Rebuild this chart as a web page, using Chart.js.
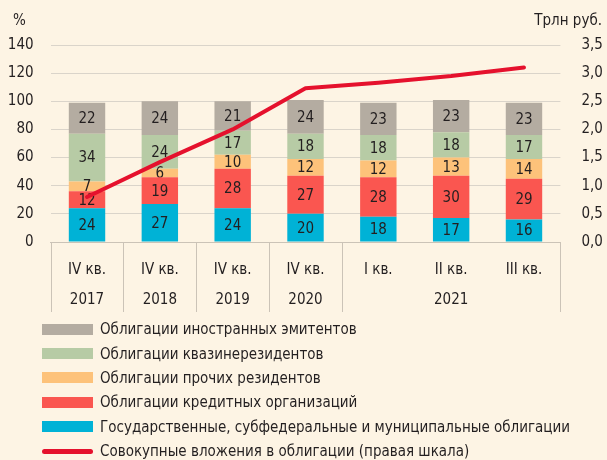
<!DOCTYPE html>
<html>
<head>
<meta charset="utf-8">
<script src="https://cdn.jsdelivr.net/npm/chart.js@4"></script>
<style>
html, body { margin: 0; padding: 0; background: #fdf4e4; }
#wrap { position: relative; width: 607px; height: 460px; }
.unit { position: absolute; top: 11px; font: 15px 'DejaVu Sans Condensed', sans-serif; color: #231f20; }
#legend { position: absolute; left: 42px; top: 317px; font: 15px 'DejaVu Sans Condensed', sans-serif; color: #231f20; }
.row { height: 24.4px; display: flex; align-items: center; white-space: nowrap; }
.sw { width: 51px; height: 11px; margin-right: 7px; flex: none; }
.ln { width: 51px; height: 5px; border-radius: 3px; margin-right: 7px; flex: none; }
</style>
</head>
<body>
<div id="wrap">
  <canvas id="chart" width="607" height="460"></canvas>
  <div class="unit" style="left:13px">%</div>
  <div class="unit" style="right:5px">Трлн руб.</div>
  <div id="legend"></div>
</div>
<script>
const quarters = ["IV кв.", "IV кв.", "IV кв.", "IV кв.", "I кв.", "II кв.", "III кв."];
const years = ["2017", "2018", "2019", "2020", "2021", "2021", "2021"];

const govBonds = [24, 27, 24, 20, 18, 17, 16];
const creditBonds = [12, 19, 28, 27, 28, 30, 29];
const otherResBonds = [7, 6, 10, 12, 12, 13, 14];
const quasiBonds = [34, 24, 17, 18, 18, 18, 17];
const foreignBonds = [22, 24, 21, 24, 23, 23, 23];
const totalBonds = [0.8, 1.42, 2.0, 2.73, 2.83, 2.95, 3.1];

const FONT = "'DejaVu Sans Condensed', sans-serif";
const TEXT = "#231f20";

// bar value labels, drawn right after each bar dataset
const barLabels = {
    id: "barLabels",
    afterDatasetDraw (chart, args) {
        let meta = args.meta;
        if (meta.type != "bar") return;
        let ctx = chart.ctx;
        let data = chart.data.datasets[args.index].data;
        ctx.save();
        ctx.font = "15px " + FONT;
        ctx.fillStyle = TEXT;
        ctx.textAlign = "center";
        ctx.textBaseline = "middle";
        meta.data.forEach((bar, i) => {
            let p = bar.getProps(["x", "y", "base"], true);
            ctx.fillText(data[i], p.x, (p.y + p.base) / 2 + 1);
        });
        ctx.restore();
    }
};

// year row with group separators under the axis
const yearRow = {
    id: "yearRow",
    afterDraw (chart) {
        let ctx = chart.ctx;
        let xs = chart.scales.x;
        let top = chart.chartArea.bottom;
        let half = (xs.getPixelForValue(1) - xs.getPixelForValue(0)) / 2;
        ctx.save();
        ctx.strokeStyle = "#cbc3b7";
        ctx.lineWidth = 1;
        ctx.font = "15px " + FONT;
        ctx.fillStyle = TEXT;
        ctx.textAlign = "center";
        ctx.textBaseline = "middle";
        let start = 0;
        for (let i = 0; i <= years.length; i++) {
            if (i == years.length || years[i] != years[start]) {
                let x0 = xs.getPixelForValue(start) - half;
                let x1 = xs.getPixelForValue(i - 1) + half;
                ctx.fillText(years[start], (x0 + x1) / 2, top + 58);
                start = i;
            }
            if (i == 0 || i == years.length || years[i] != years[i - 1]) {
                let x = Math.round(i == years.length ? xs.getPixelForValue(i - 1) + half : xs.getPixelForValue(i) - half) + 0.5;
                ctx.beginPath();
                ctx.moveTo(x, top);
                ctx.lineTo(x, top + 70);
                ctx.stroke();
            }
        }
        ctx.restore();
    }
};

function bars (label, data, color) {
    return {
        type: "bar",
        label: label,
        data: data,
        backgroundColor: color,
        borderWidth: 0,
        barPercentage: 0.5,
        categoryPercentage: 1,
        yAxisID: "y",
        order: 1
    };
}

let datasets = [
    bars("Государственные, субфедеральные и муниципальные облигации", govBonds, "#00b2d6"),
    bars("Облигации кредитных организаций", creditBonds, "#fa5650"),
    bars("Облигации прочих резидентов", otherResBonds, "#fdc27a"),
    bars("Облигации квазинерезидентов", quasiBonds, "#b7cba5"),
    bars("Облигации иностранных эмитентов", foreignBonds, "#b4aca1"),
    {
        type: "line",
        label: "Совокупные вложения в облигации (правая шкала)",
        data: totalBonds,
        borderColor: "#e5112d",
        borderWidth: 4,
        pointRadius: 0,
        tension: 0,
        borderCapStyle: "round",
        borderJoinStyle: "round",
        yAxisID: "y2",
        order: 0
    }
];

new Chart(document.getElementById("chart"), {
    data: { labels: quarters, datasets: datasets },
    plugins: [barLabels, yearRow],
    options: {
        responsive: false,
        animation: false,
        layout: { padding: { top: 45, left: 0, right: 0, bottom: 0 } },
        plugins: { legend: { display: false }, tooltip: { enabled: false } },
        scales: {
            x: {
                stacked: true,
                grid: { display: false },
                border: { display: true, color: "#cbc3b7" },
                ticks: { font: { family: FONT, size: 15 }, color: TEXT, padding: 11 },
                afterFit (scale) { scale.height = 218; }
            },
            y: {
                stacked: true,
                position: "left",
                min: 0,
                max: 140,
                ticks: { stepSize: 20, font: { family: FONT, size: 15 }, color: TEXT, padding: 17 },
                grid: { color: "#dad4ca", drawTicks: false },
                border: { display: false },
                afterFit (scale) { scale.width = 50.6; }
            },
            y2: {
                position: "right",
                min: 0,
                max: 3.5,
                ticks: {
                    stepSize: 0.5,
                    font: { family: FONT, size: 15 },
                    color: TEXT,
                    padding: 21,
                    callback: v => v.toFixed(1).replace(".", ",")
                },
                grid: { display: false, drawTicks: false },
                border: { display: false },
                afterFit (scale) { scale.width = 46.6; }
            }
        }
    }
});

// html legend, top to bottom as in the stack
let legend = document.getElementById("legend");
datasets.slice(0, 5).reverse().concat(datasets.slice(5)).forEach(ds => {
    let row = document.createElement("div");
    row.className = "row";
    let sw = document.createElement("span");
    if (ds.type == "line") {
        sw.className = "ln";
        sw.style.background = ds.borderColor;
    } else {
        sw.className = "sw";
        sw.style.background = ds.backgroundColor;
    }
    row.appendChild(sw);
    row.appendChild(document.createTextNode(ds.label));
    legend.appendChild(row);
});
</script>
</body>
</html>
